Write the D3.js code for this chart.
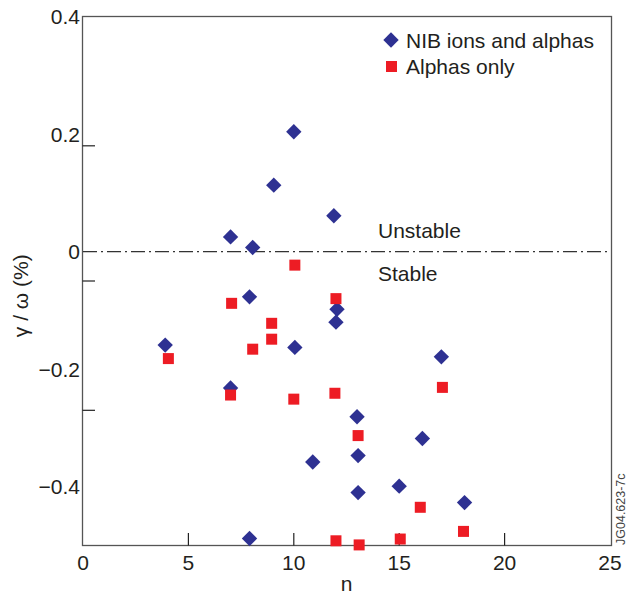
<!DOCTYPE html>
<html>
<head>
<meta charset="utf-8">
<script src="https://cdn.jsdelivr.net/npm/d3@7"></script>
<style>
  body { margin: 0; background: #fff; }
  text { font-family: "Liberation Sans", Arial, Helvetica, sans-serif; fill: #231f20; }
</style>
</head>
<body>
<div id="container"></div>
<script>
// NIB ions and alphas (blue diamonds)
const nibN = [3.9, 7, 8.05, 7.9, 9.05, 10, 10.05, 7, 11.9, 12.05, 12, 10.9, 13, 13.05, 13.05, 15, 16.1, 17, 18.1, 7.9];
const nibGamma = [-0.159, 0.025, 0.007, -0.077, 0.113, 0.204, -0.163, -0.232, 0.061, -0.098, -0.12, -0.358, -0.281, -0.347, -0.41, -0.399, -0.318, -0.179, -0.427, -0.488];

// Alphas only (red squares)
const alphaN = [4.05, 7.05, 7, 8.05, 8.95, 8.95, 10.05, 10, 12, 11.95, 13.05, 12, 13.1, 15.05, 16, 17.05, 18.05];
const alphaGamma = [-0.182, -0.088, -0.244, -0.166, -0.122, -0.149, -0.023, -0.251, -0.08, -0.241, -0.313, -0.492, -0.499, -0.489, -0.435, -0.231, -0.476];

const xTickValues = [0, 5, 10, 15, 20, 25];
const xTickMarks = [5, 10, 15, 20];
const yTickValues = [0.4, 0.2, 0, -0.2, -0.4];
const yTickMarks = [0.18, -0.05, -0.27];
const legendLabels = ["NIB ions and alphas", "Alphas only"];

const W = 628, H = 596;
const blue = "#2e3192", red = "#ed1c24", axisCol = "#555";
const fs = 21;

const svg = d3.select("#container").append("svg")
  .attr("width", W).attr("height", H);

const x = d3.scaleLinear().domain([0, 25]).range([83, 610]);
const y = d3.scaleLinear().domain([-0.5, 0.4]).range([545.5, 16.5]);

// frame
svg.append("rect")
  .attr("x", 82.5).attr("y", 16.5)
  .attr("width", 529).attr("height", 529)
  .attr("fill", "none").attr("stroke", axisCol).attr("stroke-width", 1.3);

// inward tick marks
svg.append("g").selectAll("line").data(xTickMarks).enter().append("line")
  .attr("x1", d => x(d)).attr("x2", d => x(d))
  .attr("y1", 545.5).attr("y2", 533)
  .attr("stroke", "#222").attr("stroke-width", 1.2);

svg.append("g").selectAll("line").data(yTickMarks).enter().append("line")
  .attr("x1", 82.5).attr("x2", 95)
  .attr("y1", d => y(d)).attr("y2", d => y(d))
  .attr("stroke", "#222").attr("stroke-width", 1.2);

// tick labels
const fmt = d => d === 0 ? "0" : d3.format(".1f")(d).replace("-", "\u2212");
svg.append("g").selectAll("text").data(yTickValues).enter().append("text")
  .attr("x", 80).attr("y", d => y(d) + 7.5)
  .attr("text-anchor", "end").attr("font-size", fs)
  .text(fmt);

svg.append("g").selectAll("text").data(xTickValues).enter().append("text")
  .attr("x", d => x(d)).attr("y", 570)
  .attr("text-anchor", "middle").attr("font-size", fs)
  .text(d => d);

// axis titles
svg.append("text")
  .attr("x", x(12.5)).attr("y", 591)
  .attr("text-anchor", "middle").attr("font-size", fs)
  .text("n");

svg.append("text")
  .attr("transform", `translate(28, ${y(-0.075)}) rotate(-90)`)
  .attr("text-anchor", "middle").attr("font-size", fs)
  .text("\u03b3 / \u03c9 (%)");

// zero line (dash-dot)
svg.append("line")
  .attr("x1", x(0)).attr("x2", x(25))
  .attr("y1", y(0)).attr("y2", y(0))
  .attr("stroke", "#333").attr("stroke-width", 1.4)
  .attr("stroke-dasharray", "14,4,2,4");

svg.append("text").attr("x", 378).attr("y", y(0) - 14)
  .attr("font-size", fs).text("Unstable");
svg.append("text").attr("x", 378).attr("y", y(0) + 29)
  .attr("font-size", fs).text("Stable");

// data
const diamond = d3.symbol().type(d3.symbolSquare).size(118);
svg.append("g").selectAll("path").data(nibN.map((n, i) => [n, nibGamma[i]])).enter()
  .append("path")
  .attr("d", diamond)
  .attr("transform", d => `translate(${x(d[0])},${y(d[1])}) rotate(45)`)
  .attr("fill", blue);

const sq = 11;
svg.append("g").selectAll("rect").data(alphaN.map((n, i) => [n, alphaGamma[i]])).enter()
  .append("rect")
  .attr("x", d => x(d[0]) - sq / 2).attr("y", d => y(d[1]) - sq / 2)
  .attr("width", sq).attr("height", sq)
  .attr("fill", red);

// legend
const leg = svg.append("g");
leg.append("path").attr("d", diamond)
  .attr("transform", "translate(391,40) rotate(45)").attr("fill", blue);
leg.append("rect").attr("x", 386).attr("y", 61).attr("width", sq).attr("height", sq).attr("fill", red);
leg.selectAll("text").data(legendLabels).enter().append("text")
  .attr("x", 406).attr("y", (d, i) => 47.5 + i * 26)
  .attr("font-size", fs).text(d => d);

// figure id
svg.append("text")
  .attr("transform", "translate(625, 545) rotate(-90)")
  .attr("font-size", 12.5).style("fill", "#444")
  .text("JG04.623-7c");
</script>
</body>
</html>
